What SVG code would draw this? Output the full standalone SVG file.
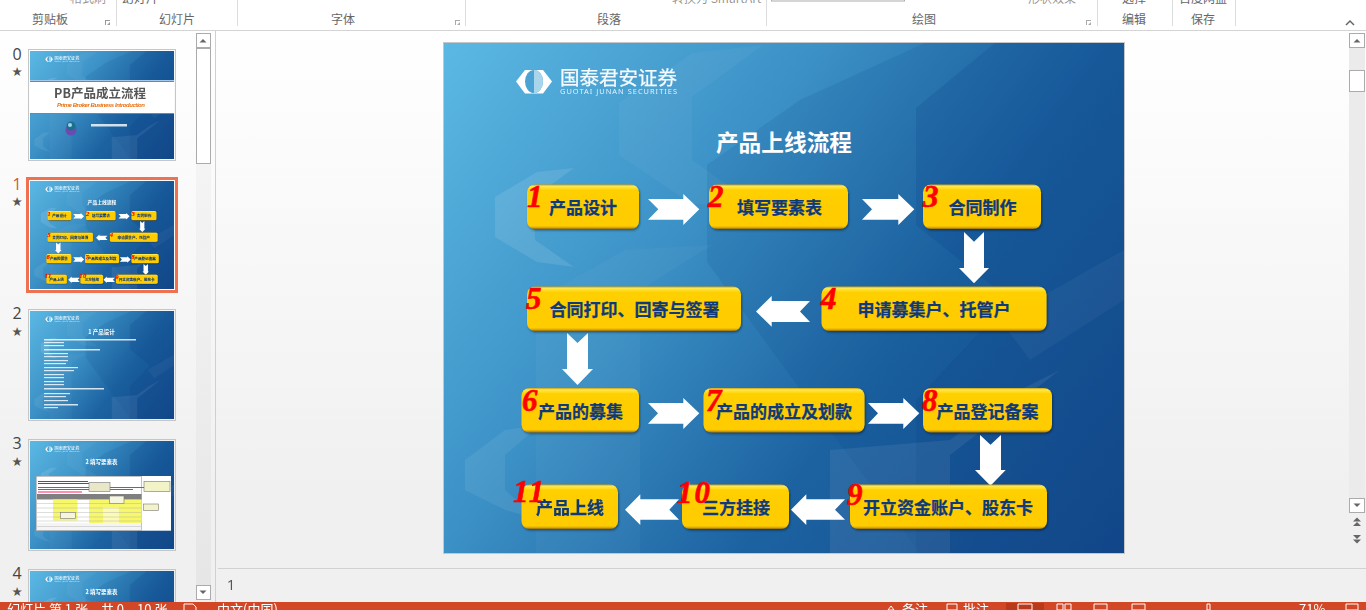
<svg xmlns="http://www.w3.org/2000/svg" width="1366" height="610" viewBox="0 0 1366 610">
<style>
.ui{font-family:"Noto Sans CJK SC","Noto Sans",sans-serif;fill:#666;font-size:12px}
.grp{text-anchor:middle}
.sep{stroke:#dcdcdc;stroke-width:1}
.num{font-family:"Open Sans","Noto Sans",sans-serif;font-size:16px;fill:#444;text-anchor:middle}
.star{font-family:"DejaVu Sans",sans-serif;font-size:12.500px;fill:#555;text-anchor:middle}
.frame{fill:none;stroke:#c6c6c6;stroke-width:1}
.sb{fill:#fff;stroke:#ababab;stroke-width:1}
.tri{fill:#666}
.box{fill:url(#gold);filter:url(#sh)}
.lbl{font-family:"Noto Sans CJK SC",sans-serif;font-weight:700;font-size:17px;fill:#0e3a7c;stroke:#0e3a7c;stroke-width:.25}
.idx{font-family:"Liberation Serif",serif;font-weight:700;font-style:italic;font-size:31px;fill:#f00;stroke:#f00;stroke-width:.6}
.wide{letter-spacing:2px}
.arr{fill:#fff}
.st{font-family:"Noto Sans CJK SC",sans-serif;font-size:13px;fill:#fff}
.line{fill:#fff;opacity:.8}
.ov{fill:#fff}
.dk{fill:#0b3f86}
.soft{filter:url(#soft)}
.ttl{font-family:"Noto Sans CJK SC",sans-serif;font-weight:700;fill:#fff}
</style>
<defs>
<linearGradient id="bg" gradientUnits="userSpaceOnUse" x1="444" y1="43" x2="1124" y2="553">
<stop offset="0" stop-color="#5bb8e3"/><stop offset=".36" stop-color="#3b90c5"/><stop offset=".64" stop-color="#1c62a1"/><stop offset="1" stop-color="#154b8b"/>
</linearGradient>
<linearGradient id="gold" x1="0" y1="0" x2="0" y2="1">
<stop offset="0" stop-color="#c9a21a"/><stop offset=".04" stop-color="#ffe84d"/><stop offset=".13" stop-color="#ffd000"/><stop offset=".5" stop-color="#ffcc00"/><stop offset=".93" stop-color="#ffcc00"/><stop offset=".97" stop-color="#d9a308"/><stop offset="1" stop-color="#8c6a18"/>
</linearGradient>
<linearGradient id="pane" x1="0" y1="0" x2="0" y2="1"><stop offset="0" stop-color="#fff"/><stop offset=".8" stop-color="#f0f0f0"/></linearGradient>
<linearGradient id="track" x1="0" y1="0" x2="0" y2="1"><stop offset="0" stop-color="#f8f8f8"/><stop offset="1" stop-color="#e6e6e6"/></linearGradient>
<filter id="sh" x="-10%" y="-10%" width="120%" height="130%"><feDropShadow dx="1" dy="1.500" stdDeviation="1" flood-color="#000" flood-opacity=".4"/></filter>
<filter id="soft" x="-5%" y="-5%" width="110%" height="110%"><feGaussianBlur stdDeviation=".35"/></filter>
<clipPath id="slideClip"><rect x="444" y="43" width="680" height="510"/></clipPath>
<g id="plate">
<rect x="444" y="43" width="680" height="510" fill="url(#bg)"/>
<g clip-path="url(#slideClip)">
<polygon class="dk" opacity=".12" points="707,165 800,100 925,43 1124,43 1124,553 920,553 707,262"/>
<polygon class="dk" opacity=".18" points="916,108 995,43 1124,43 1124,553 916,553 916,400 1010,300 916,225"/>
<polygon class="ov" opacity=".04" points="619,103 693,53 763,45 692,97 692,160 762,210 690,203 619,155"/>
<polygon class="ov" opacity=".1" points="495,197 537,172 574,168 533,198 535,240 574,267 537,262 495,237"/>
<polygon class="ov" opacity=".07" points="465,460 505,430 540,425 505,455 505,490 540,520 505,510 465,490"/>
<polygon class="ov" opacity=".03" points="536,300 625,250 712,245 640,290 640,553 536,553"/>
<polygon class="ov" opacity=".07" points="830,450 950,440 1010,395 1060,370 950,455 950,553 830,553"/>
<polygon class="ov" opacity=".04" points="1000,320 1124,250 1124,300 1030,360"/>
</g>
</g>
<g id="logo">
<path d="M516,81.500 L525,70 L543,70 L552,81.500 L543,93.500 L525,93.500Z" fill="#fff"/>
<ellipse cx="534" cy="81.500" rx="9" ry="11.500" fill="#4ba3d4"/>
<path d="M534,70 A9,11.500 0 0 1 534,93Z" fill="#a9d5ec"/>
<text x="560" y="85" font-family="Noto Sans CJK SC,sans-serif" font-size="19.500" fill="#fff" stroke="#fff" stroke-width=".25" opacity=".95">国泰君安证券</text>
<text x="560" y="94" font-family="Noto Sans,sans-serif" font-size="7.400" fill="#fff" opacity=".85" textLength="117">GUOTAI JUNAN SECURITIES</text>
</g>
<g id="slide-plain"><use href="#plate"/><use href="#logo" class="soft"/></g>
</defs>

<rect width="1366" height="610" fill="#f1f1f1"/>
<rect x="0" y="31" width="1366" height="575" fill="url(#pane)"/>

<g id="ribbon">
<rect width="1366" height="30" fill="#fff"/>
<line x1="0" y1="30.500" x2="1366" y2="30.500" stroke="#d4d4d4"/>
<line class="sep" x1="116.500" y1="0" x2="116.500" y2="26"/><line class="sep" x1="237.500" y1="0" x2="237.500" y2="26"/><line class="sep" x1="465.500" y1="0" x2="465.500" y2="26"/><line class="sep" x1="766.500" y1="0" x2="766.500" y2="26"/><line class="sep" x1="1097.500" y1="0" x2="1097.500" y2="26"/><line class="sep" x1="1172.500" y1="0" x2="1172.500" y2="26"/><line class="sep" x1="1235.500" y1="0" x2="1235.500" y2="26"/>
<text class="ui grp" x="50" y="24">剪贴板</text><text class="ui grp" x="177" y="24">幻灯片</text><text class="ui grp" x="343" y="24">字体</text><text class="ui grp" x="609" y="24">段落</text><text class="ui grp" x="924" y="24">绘图</text><text class="ui grp" x="1134" y="24">编辑</text><text class="ui grp" x="1203" y="24">保存</text>
<text class="ui" x="70" y="3" fill-opacity=".7">格式刷</text><text class="ui" x="122" y="3">幻灯片</text><text class="ui" x="672" y="3" fill-opacity=".7">转换为 SmartArt</text><text class="ui" x="1028" y="3" fill-opacity=".7">形状效果</text><text class="ui" x="1122" y="3">选择</text><text class="ui" x="1179" y="3">百度网盘</text>
<rect x="771.500" y="-5" width="133" height="6" fill="#fff" stroke="#ababab"/>
<path d="M105,20h5v1h-4v4h-1zM110,25v-3l-3,3z" fill="#999"/><path d="M455,20h5v1h-4v4h-1zM460,25v-3l-3,3z" fill="#aaa"/><path d="M1086,20h5v1h-4v4h-1zM1091,25v-3l-3,3z" fill="#aaa"/>
<path d="M1346,25l4,-4l4,4" fill="none" stroke="#666" stroke-width="1.500"/>
</g>

<g id="thumbnails">
<line x1="215.500" y1="31" x2="215.500" y2="602" stroke="#d0d0d0"/>
<rect x="196" y="47" width="15" height="538" fill="url(#track)"/>
<rect class="sb" x="196.500" y="33.500" width="14" height="14"/><path class="tri" d="M199.500,42.500h7l-3.500,-3.500z"/>
<rect class="sb" x="196.500" y="48.500" width="14" height="115"/>
<rect class="sb" x="196.500" y="585.500" width="14" height="14"/><path class="tri" d="M199.500,590.500h7l-3.500,3.500z"/>

<text class="num" x="17" y="60">0</text><text class="star" x="17" y="76">★</text>
<rect class="frame" x="28.500" y="49.500" width="147" height="111"/>
<g transform="translate(30,51) scale(.2118) translate(-444,-43)"><use href="#slide-plain"/></g>
<rect x="30" y="80" width="144" height="33.500" fill="#fff"/><rect x="30" y="80.500" width="144" height="1.500" fill="#4a90d9"/><rect x="30" y="113" width="144" height="1" fill="#4a90d9"/>
<g class="soft">
<text x="100" y="98" font-family="Noto Sans CJK SC,sans-serif" font-weight="700" font-size="12.500" fill="#555" text-anchor="middle">PB产品成立流程</text>
<text x="57" y="106.500" font-family="Liberation Sans,sans-serif" font-style="italic" font-weight="700" font-size="6" fill="#e8700f" textLength="88">Prime Broker Business Introduction</text>
<circle cx="71" cy="130" r="5.500" fill="#6a4bb0"/><circle cx="71" cy="126" r="4.500" fill="#1d6f8f"/><circle cx="70" cy="125" r="2" fill="#9fd6e8"/>
<rect class="line" x="91" y="124" width="36" height="2.500"/>
</g>

<text class="num" x="17" y="190" style="fill:#d2553a">1</text><text class="star" x="17" y="206">★</text>
<rect x="27.500" y="178.500" width="149" height="113" fill="#fff" stroke="#f0714f" stroke-width="3"/>
<g transform="translate(30,181) scale(.2118) translate(-444,-43)"><use href="#slide-plain"/><use href="#title-text" class="soft"/><use href="#flow" class="soft"/></g>

<text class="num" x="17" y="319">2</text><text class="star" x="17" y="336">★</text>
<rect class="frame" x="28.500" y="309.500" width="147" height="111"/>
<g transform="translate(30,311) scale(.2118) translate(-444,-43)"><use href="#slide-plain"/></g>
<g class="soft">
<text x="101.500" y="334" font-family="Noto Sans CJK SC,sans-serif" font-weight="700" font-size="5.500" fill="#fff" text-anchor="middle">1 产品设计</text>
<g class="line"><rect x="44" y="339" width="92" height="1.500"/><rect x="44" y="342" width="20" height="1.200"/><rect x="44" y="345" width="20" height="1.200"/><rect x="44" y="349" width="56" height="1.500"/><rect x="44" y="353" width="24" height="1.200"/><rect x="44" y="356" width="24" height="1.200"/><rect x="44" y="360" width="24" height="1.200"/><rect x="44" y="363" width="22" height="1.200"/><rect x="44" y="367" width="34" height="1.200"/><rect x="44" y="370" width="30" height="1.200"/><rect x="44" y="374" width="20" height="1.200"/><rect x="44" y="377" width="20" height="1.200"/><rect x="44" y="381" width="20" height="1.200"/><rect x="44" y="384" width="20" height="1.200"/><rect x="44" y="388" width="60" height="1.500"/><rect x="44" y="393" width="26" height="1.200"/><rect x="44" y="396" width="22" height="1.200"/><rect x="44" y="400" width="24" height="1.200"/><rect x="44" y="404" width="34" height="1.500"/><rect x="44" y="407" width="14" height="1.200"/></g>
</g>

<text class="num" x="17" y="449">3</text><text class="star" x="17" y="466">★</text>
<rect class="frame" x="28.500" y="439.500" width="147" height="111"/>
<g transform="translate(30,441) scale(.2118) translate(-444,-43)"><use href="#slide-plain"/></g>
<text class="soft" x="101.500" y="464" font-family="Noto Sans CJK SC,sans-serif" font-weight="700" font-size="5.500" fill="#fff" text-anchor="middle">2 填写要素表</text>
<g id="thumb3-table" class="soft">
<rect x="36" y="476" width="135" height="54.700" fill="#fff"/>
<rect x="36.500" y="476.500" width="105" height="54" fill="none" stroke="#999" stroke-width=".6"/>
<rect x="38" y="481" width="50" height="1" fill="#555"/><rect x="38" y="483" width="60" height="1" fill="#555"/>
<rect x="38" y="487" width="130" height="1" fill="#f26"/><rect x="38" y="489" width="95" height="1" fill="#f26"/><rect x="38" y="491.500" width="44" height="1" fill="#f26"/>
<rect x="37" y="494" width="104.500" height="5.500" fill="#7f7f7f"/>
<rect x="53" y="499.500" width="24.500" height="21" fill="#f7f76a"/><rect x="89" y="500" width="52.500" height="23" fill="#f7f76a"/>
<rect x="103" y="507" width="16" height="16" fill="#fff" opacity=".5"/><rect x="37" y="523" width="104" height="7" fill="#f4f4f4"/>
<path d="M37,503.500h104M37,508h104M37,512.500h104M37,517h104M37,521h104M37,526.500h104" stroke="#aaa" stroke-width=".4"/>
<rect x="89" y="482.500" width="21" height="9" fill="#e8e8c8" stroke="#777" stroke-width=".6"/><rect x="144" y="481.500" width="26" height="10" fill="#f3f3c8" stroke="#777" stroke-width=".6"/><rect x="143.500" y="504" width="15" height="6.500" fill="#f3f3c8" stroke="#777" stroke-width=".6"/><rect x="109.500" y="496" width="14.500" height="7.500" fill="#f6f6e0" stroke="#777" stroke-width=".6"/><rect x="60.500" y="512.500" width="15" height="6" fill="#f6f6e0" stroke="#777" stroke-width=".6"/>
</g>

<text class="num" x="17" y="579">4</text><text class="star" x="17" y="596">★</text>
<rect class="frame" x="28.500" y="569.500" width="147" height="111"/>
<g transform="translate(30,571) scale(.2118) translate(-444,-43)"><use href="#slide-plain"/></g>
<text class="soft" x="101.500" y="594" font-family="Noto Sans CJK SC,sans-serif" font-weight="700" font-size="5.500" fill="#fff" text-anchor="middle">2 填写要素表</text>
</g>

<g id="editor">
<rect x="443.500" y="42.500" width="681" height="511" fill="none" stroke="#c6c6c6"/>
<use href="#plate"/>
<use href="#logo"/>
<text id="title-text" class="ttl" x="784" y="151" text-anchor="middle" font-size="22.700">产品上线流程</text>
<g id="flow">
<g id="connectors">
<polygon class="arr" points="648,199 683.300,199 683.300,194 699.300,209.300 683.300,225 683.300,219.700 648,219.700 658.300,209.300"/>
<polygon class="arr" points="862,199 898.300,199 898.300,194 914.300,209.300 898.300,225 898.300,219.700 862,219.700 872,209.300"/>
<polygon class="arr" points="964,232 974,241.700 984,232 984,268 989,268 974,283.300 959,268 964,268"/>
<polygon class="arr" points="810,301 771.700,301 771.700,296 756,311.500 771.700,326.700 771.700,322 810,322 800,311.500"/>
<polygon class="arr" points="567,333 577.500,343 588,333 588,369 593,369 577.500,385 562,369 567,369"/>
<polygon class="arr" points="648,403 683.300,403 683.300,398 699.300,413.300 683.300,429 683.300,423.700 648,423.700 658,413.300"/>
<polygon class="arr" points="868,403 903.300,403 903.300,398 919.300,413.300 903.300,429 903.300,423.700 868,423.700 878,413.300"/>
<polygon class="arr" points="980,435 990.500,444.700 1001,435 1001,470 1005.700,470 990.500,485.700 975,470 980,470"/>
<polygon class="arr" points="845,499.300 806.300,499.300 806.300,494.300 791,509.700 806.300,525 806.300,519.700 845,519.700 835,509.700"/>
<polygon class="arr" points="679,499.300 640.300,499.300 640.300,494.300 625,509.700 640.300,525 640.300,519.700 679,519.700 669.300,509.700"/>
</g>
<g id="n1"><rect class="box" x="527" y="184.500" width="112" height="44.500" rx="8"/><text class="lbl" x="549" y="214">产品设计</text><text class="idx" x="527" y="207">1</text></g>
<g id="n2"><rect class="box" x="709" y="184.500" width="139" height="44.500" rx="8"/><text class="lbl" x="737" y="214">填写要素表</text><text class="idx" x="708" y="207">2</text></g>
<g id="n3"><rect class="box" x="923" y="184.500" width="118" height="44.500" rx="8"/><text class="lbl" x="948.500" y="214">合同制作</text><text class="idx" x="923" y="207">3</text></g>
<g id="n4"><rect class="box" x="821.500" y="286.500" width="225" height="44.500" rx="8"/><text class="lbl" x="857.500" y="316">申请募集户、托管户</text><text class="idx" x="821" y="309">4</text></g>
<g id="n5"><rect class="box" x="527" y="286.500" width="214" height="44.500" rx="8"/><text class="lbl" x="549.500" y="316">合同打印、回寄与签署</text><text class="idx" x="526" y="309">5</text></g>
<g id="n6"><rect class="box" x="521.500" y="388" width="117.500" height="44.500" rx="8"/><text class="lbl" x="538" y="418">产品的募集</text><text class="idx" x="522" y="411">6</text></g>
<g id="n7"><rect class="box" x="703.500" y="388" width="161" height="44.500" rx="8"/><text class="lbl" x="716" y="418">产品的成立及划款</text><text class="idx" x="706" y="411">7</text></g>
<g id="n8"><rect class="box" x="923" y="388" width="129" height="44.500" rx="8"/><text class="lbl" x="936.500" y="418">产品登记备案</text><text class="idx" x="922" y="411">8</text></g>
<g id="n9"><rect class="box" x="850" y="484.500" width="197" height="44.500" rx="8"/><text class="lbl" x="863" y="514">开立资金账户、股东卡</text><text class="idx" x="847" y="505">9</text></g>
<g id="n10"><rect class="box" x="682" y="484.500" width="107" height="44.500" rx="8"/><text class="lbl" x="702" y="514">三方挂接</text><text class="idx wide" x="677" y="503">10</text></g>
<g id="n11"><rect class="box" x="521.500" y="484.500" width="96.500" height="44.500" rx="8"/><text class="lbl" x="536" y="514">产品上线</text><text class="idx wide" x="513" y="502">11</text></g>
</g>
</g>

<g id="right-scroll">
<rect x="1349" y="33" width="16" height="480" fill="#ebebeb"/>
<rect class="sb" x="1349.500" y="33.500" width="15" height="14"/><path class="tri" d="M1353.500,42.500h7l-3.500,-3.500z"/>
<rect class="sb" x="1349.500" y="70.500" width="15" height="21"/>
<rect class="sb" x="1349.500" y="498.500" width="15" height="14"/><path class="tri" d="M1353.500,503.500h7l-3.500,3.500z"/>
<path class="tri" d="M1353,521.500h8l-4,-4zM1353,526h8l-4,-4z"/><path class="tri" d="M1353,535h8l-4,4zM1353,539.500h8l-4,4z"/>
</g>

<g id="notes">
<line x1="218" y1="568.500" x2="1366" y2="568.500" stroke="#d2d2d2"/>
<text x="231" y="590" font-family="Open Sans,sans-serif" font-size="15" fill="#555" text-anchor="middle">1</text>
</g>

<g id="statusbar">
<rect y="602" width="1366" height="8" fill="#d24726"/>
<rect x="1006" y="603" width="38" height="7" fill="#b83a1c"/>
<text class="st" x="7" y="614">幻灯片 第 1 张，共 0、10 张</text>
<text class="st" x="217" y="614">中文(中国)</text>
<text class="st" x="902" y="614">备注</text><text class="st" x="963" y="614">批注</text>
<text class="st" x="1299" y="614">71%</text>
<path d="M184,610v-6h9l3,3v3M888,610l3,-4l3,4zM947,604h10v6h-10zM1018,604h14v6h-14zM1057,604h6v6h-6zM1065,604h6v6h-6zM1094,604h13v6h-13zM1132,604h13v6h-13zM1207,604h3v6h-3zM1346,604h12v6h-12z" fill="none" stroke="#fff" stroke-width="1"/>
</g>
</svg>
